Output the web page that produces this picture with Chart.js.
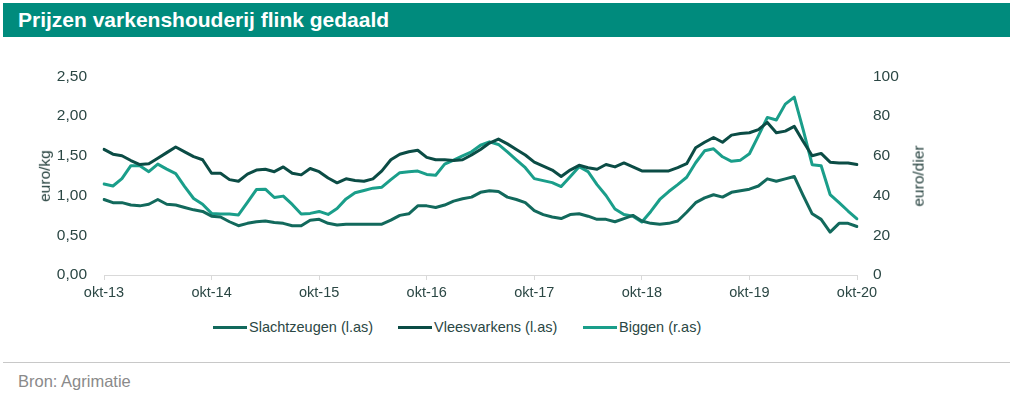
<!DOCTYPE html>
<html>
<head>
<meta charset="utf-8">
<script src="https://cdn.jsdelivr.net/npm/chart.js@4.4.0/dist/chart.umd.min.js"></script>
<style>
  html, body { margin:0; padding:0; background:#ffffff; }
  body { width:1024px; height:397px; position:relative; overflow:hidden; font-family:"Liberation Sans", Arial, sans-serif; }
  #titlebar { position:absolute; left:3px; top:3px; width:1007px; height:34px; background:#008b7d; }
  #titlebar span { position:absolute; left:15px; top:5px; color:#fff; font-weight:bold; font-size:21px; line-height:24px; }
  #wrap { position:absolute; left:0; top:50px; width:1024px; height:260px; }
  .ytitle { position:absolute; font-size:15.5px; color:#233f3c; white-space:nowrap; transform-origin:center center; }
  #legend { position:absolute; top:317px; left:0; width:1024px; height:20px; font-size:14.5px; color:#2b4744; }
  .li { position:absolute; top:0; height:20px; line-height:20px; white-space:nowrap; }
  .li i { display:inline-block; width:34px; height:3px; vertical-align:middle; margin-right:2px; position:relative; top:-1px; }
  #sep { position:absolute; left:3px; top:362px; width:1007px; height:1px; background:#c8c8c8; }
  #source { position:absolute; left:18px; top:372px; font-size:16.5px; color:#8a8a8a; }
</style>
</head>
<body>
<div id="titlebar"><span>Prijzen varkenshouderij flink gedaald</span></div>
<div id="wrap"><canvas id="c" width="1024" height="260"></canvas></div>
<div class="ytitle" id="tl">euro/kg</div>
<div class="ytitle" id="tr">euro/dier</div>
<div id="legend"></div>
<div id="sep"></div>
<div id="source">Bron: Agrimatie</div>
<script>
// ---- data ----
const months = ['jan','feb','mrt','apr','mei','jun','jul','aug','sep','okt','nov','dec'];
const startYear = 13, startMonth = 9, nPoints = 85; // okt-13 .. okt-20
const categories = [];
for (let i = 0; i < nPoints; i++) {
  const m = (startMonth + i) % 12;
  const y = startYear + Math.floor((startMonth + i) / 12);
  categories.push(months[m] + '-' + y);
}
const slachtzeugen = [
  0.95,0.91,0.91,0.88,0.87,0.89,0.95,0.89,0.88,0.85,0.82,0.80,
  0.74,0.73,0.67,0.62,0.65,0.67,0.68,0.66,0.65,0.62,0.62,0.69,
  0.70,0.65,0.63,0.64,0.64,0.64,0.64,0.64,0.69,0.75,0.77,0.87,
  0.87,0.85,0.88,0.93,0.96,0.98,1.04,1.06,1.05,0.98,0.95,0.91,
  0.81,0.76,0.73,0.71,0.76,0.77,0.74,0.70,0.70,0.67,0.71,0.75,
  0.68,0.65,0.64,0.65,0.68,0.79,0.91,0.97,1.01,0.98,1.04,1.06,
  1.08,1.12,1.21,1.18,1.21,1.24,1.00,0.77,0.70,0.54,0.65,0.65,
  0.61
];
const vleesvarkens = [
  1.58,1.52,1.50,1.44,1.39,1.40,1.47,1.54,1.61,1.55,1.49,1.45,
  1.28,1.28,1.20,1.18,1.27,1.32,1.33,1.30,1.36,1.28,1.26,1.34,
  1.30,1.22,1.16,1.21,1.19,1.18,1.21,1.31,1.45,1.52,1.55,1.57,
  1.48,1.45,1.45,1.44,1.45,1.51,1.58,1.66,1.71,1.65,1.58,1.51,
  1.42,1.37,1.32,1.24,1.32,1.38,1.35,1.33,1.39,1.36,1.41,1.36,
  1.31,1.31,1.31,1.31,1.35,1.40,1.60,1.67,1.73,1.67,1.76,1.78,
  1.79,1.83,1.92,1.79,1.81,1.87,1.68,1.50,1.53,1.42,1.41,1.41,
  1.39
];
const biggen = [
  45.8,44.8,48.5,55.0,55.0,52.0,55.8,53.3,51.0,44.5,38.5,35.6,
  31.0,30.7,30.7,30.2,36.5,43.0,43.2,39.0,39.7,35.5,30.7,31.0,
  32.0,30.5,33.5,38.3,41.4,42.5,43.7,44.2,48.0,51.5,52.0,52.3,
  50.6,50.2,55.8,57.8,60.0,62.0,65.3,67.0,65.7,62.0,58.0,54.0,
  48.5,47.5,46.5,44.5,49.5,54.5,52.0,45.5,40.0,33.2,30.4,29.6,
  26.7,32.0,38.0,42.0,45.5,49.2,56.5,62.5,63.5,59.5,57.2,57.8,
  61.0,70.0,79.3,78.0,86.0,89.5,73.0,55.5,55.0,40.5,36.4,32.2,
  28.3
];
const leftTicks = [0, 0.5, 1.0, 1.5, 2.0, 2.5];
const rightTicks = [0, 20, 40, 60, 80, 100];
const seriesNames = ['Slachtzeugen (l.as)', 'Vleesvarkens (l.as)', 'Biggen (r.as)'];
const seriesColors = ['#12695c', '#0b4c45', '#1a9e8a'];

// ---- layout constants ----
const AREA_LEFT = 104, AREA_RIGHT = 857;
const FONT = '"Liberation Sans", Arial, sans-serif';
const TXT = '#2b4744';

const chart = new Chart(document.getElementById('c'), {
  type: 'line',
  data: {
    labels: categories,
    datasets: [
      { label: seriesNames[0], data: slachtzeugen, yAxisID: 'yL', borderColor: seriesColors[0] },
      { label: seriesNames[1], data: vleesvarkens, yAxisID: 'yL', borderColor: seriesColors[1] },
      { label: seriesNames[2], data: biggen, yAxisID: 'yR', borderColor: seriesColors[2] }
    ].map(d => Object.assign(d, { borderWidth: 3, pointRadius: 0, tension: 0, fill: false, borderJoinStyle: 'round', borderCapStyle: 'round' }))
  },
  options: {
    responsive: false,
    animation: false,
    devicePixelRatio: 1,
    layout: { padding: { top: 20, bottom: 0, left: 0, right: 0 } },
    plugins: { legend: { display: false }, tooltip: { enabled: false }, title: { display: false } },
    scales: {
      x: {
        type: 'category',
        offset: false,
        afterFit: s => { s.height = 35; },
        grid: { display: true, drawOnChartArea: false, drawTicks: true, tickLength: 5, color: '#d9d9d9' },
        border: { display: true, color: '#d9d9d9', width: 1 },
        ticks: {
          autoSkip: false, maxRotation: 0, minRotation: 0, padding: 4,
          color: TXT, font: { family: FONT, size: 14.5 },
          callback: function(v, i) { const l = categories[i]; return l.startsWith('okt') ? l : null; }
        }
      },
      yL: {
        position: 'left', min: 0, max: 2.5,
        afterFit: s => { s.width = AREA_LEFT; },
        grid: { display: false, drawTicks: false },
        border: { display: false },
        afterBuildTicks: s => { s.ticks = leftTicks.map(v => ({ value: v })); },
        ticks: {
          padding: 17, color: TXT, font: { family: FONT, size: 15.5 },
          callback: v => v.toFixed(2).replace('.', ',')
        }
      },
      yR: {
        position: 'right', min: 0, max: 100,
        afterFit: s => { s.width = 1024 - AREA_RIGHT; },
        grid: { display: false, drawTicks: false },
        border: { display: false },
        afterBuildTicks: s => { s.ticks = rightTicks.map(v => ({ value: v })); },
        ticks: {
          padding: 16, color: TXT, font: { family: FONT, size: 15.5 },
          callback: v => String(v)
        }
      }
    }
  }
});

// axis titles centred on the chart area
const ca = chart.chartArea;
const midY = 50 + (ca.top + ca.bottom) / 2;
function placeTitle(id, cx) {
  const el = document.getElementById(id);
  const w = el.offsetWidth, h = el.offsetHeight;
  el.style.left = (cx - w / 2) + 'px';
  el.style.top = (midY - h / 2) + 'px';
  el.style.transform = 'rotate(-90deg)';
}
placeTitle('tl', 45);
placeTitle('tr', 918);

// legend
const legendPos = [213, 398, 583];
const lg = document.getElementById('legend');
seriesNames.forEach((n, k) => {
  const d = document.createElement('div');
  d.className = 'li';
  d.style.left = legendPos[k] + 'px';
  const sw = document.createElement('i');
  sw.style.background = seriesColors[k];
  d.appendChild(sw);
  d.appendChild(document.createTextNode(n));
  lg.appendChild(d);
});
</script>
</body>
</html>
